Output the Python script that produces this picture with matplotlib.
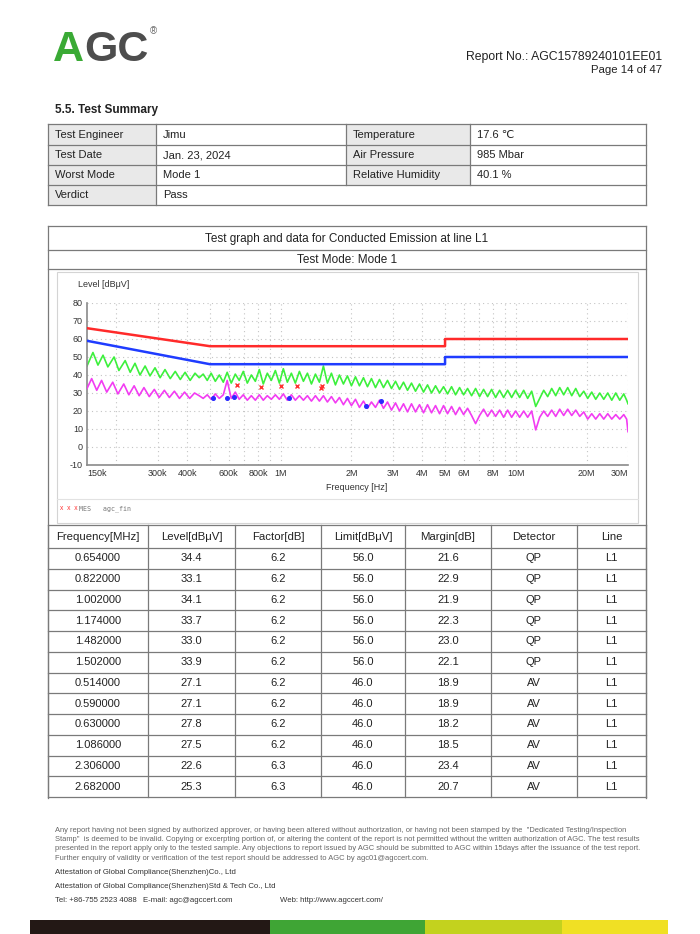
import matplotlib
matplotlib.use("Agg")
import matplotlib.pyplot as plt
from matplotlib.lines import Line2D
from matplotlib.patches import Rectangle

plt.rcParams['font.family'] = ['Liberation Sans', 'DejaVu Sans']
plt.rcParams['axes.unicode_minus'] = False

# ---- 시험 조건 요약 표
summary_rows = [
    ["Test Engineer", "Jimu", "Temperature", "17.6 ℃"],
    ["Test Date", "Jan. 23, 2024", "Air Pressure", "985 Mbar"],
    ["Worst Mode", "Mode 1", "Relative Humidity", "40.1 %"],
    ["Verdict", "Pass"],
]

# ---- 한계선 (MHz, dBuV)
lim_freq = [0.15, 0.5, 5.0, 5.0, 30.0]
qp_limit = [66, 56, 56, 60, 60]
av_limit = [59, 46, 46, 50, 50]

# ---- 피크 트레이스 (초록), 저주파 리플 구간
pk_lo_freq = [0.150, 0.159, 0.167, 0.1755, 0.184, 0.1955, 0.205, 0.218, 0.229, 0.240, 0.252,
              0.265, 0.278, 0.292, 0.307, 0.322, 0.339, 0.356, 0.374, 0.392, 0.412, 0.432]
pk_lo_level = [45.0, 52.5, 45.5, 51.0, 44.5, 50.0, 42.5, 48.0, 41.5, 46.5, 40.0,
               45.0, 39.5, 44.0, 38.5, 43.0, 38.0, 42.0, 37.5, 41.5, 37.0, 41.0]

# ---- 평균 트레이스 (자홍), 저주파 리플 구간
av_lo_freq = [0.150, 0.157, 0.165, 0.173, 0.182, 0.193, 0.203, 0.215, 0.226, 0.238, 0.250,
              0.262, 0.276, 0.290, 0.304, 0.320, 0.336, 0.353, 0.371, 0.390, 0.410, 0.430]
av_lo_level = [32.5, 38.0, 31.5, 37.0, 30.5, 36.0, 29.5, 35.0, 29.0, 34.0, 28.5,
               33.0, 28.0, 32.0, 27.5, 31.5, 27.5, 31.0, 27.0, 30.5, 27.0, 30.0]

# ---- 0.45 MHz 이후 공통 주파수 (노이즈 구간)
hf_freq = [0.45, 0.468, 0.487, 0.506, 0.527, 0.548, 0.570, 0.592, 0.616, 0.641,
           0.666, 0.693, 0.721, 0.750, 0.780, 0.811, 0.843, 0.877, 0.912, 0.949,
           0.987, 1.026, 1.067, 1.110, 1.154, 1.201, 1.249, 1.299, 1.351, 1.405,
           1.461, 1.519, 1.580, 1.643, 1.709, 1.777, 1.848, 1.922, 1.999, 2.079,
           2.162, 2.249, 2.339, 2.432, 2.530, 2.631, 2.736, 2.846, 2.959, 3.078,
           3.201, 3.329, 3.462, 3.600, 3.744, 3.894, 4.050, 4.212, 4.380, 4.555,
           4.738, 4.927, 5.124, 5.329, 5.542, 5.764, 5.995, 6.234, 6.484, 6.743,
           7.013, 7.293, 7.585, 7.889, 8.204, 8.533, 8.874, 9.229, 9.598, 9.982,
           10.38, 10.80, 11.23, 11.68, 12.15, 12.63, 13.14, 13.66, 14.21, 14.78,
           15.37, 15.98, 16.62, 17.29, 17.98, 18.70, 19.45, 20.22, 21.03, 21.87,
           22.75, 23.66, 24.60, 25.59, 26.61, 27.67, 28.78, 29.6, 30.0]
pk_hf_level = [38.5, 40.5, 37.0, 41.0, 36.5, 40.0, 36.0, 41.5, 35.5, 40.5,
               37.0, 42.0, 35.5, 40.0, 36.5, 43.0, 35.0, 41.0, 37.0, 42.5,
               35.5, 43.5, 36.0, 41.0, 35.5, 42.0, 36.5, 41.0, 35.0, 40.5,
               36.0, 45.0, 35.5, 41.0, 34.5, 40.0, 35.0, 39.5, 34.0, 39.0,
               34.0, 38.5, 33.5, 38.0, 33.0, 37.5, 33.0, 37.0, 32.5, 36.5,
               32.0, 36.0, 31.5, 35.5, 31.0, 35.0, 30.5, 34.5, 30.0, 34.0,
               30.0, 33.5, 29.5, 33.5, 29.0, 33.0, 29.0, 32.5, 28.5, 32.5,
               28.0, 32.0, 28.0, 32.0, 27.5, 31.5, 27.5, 31.5, 27.5, 31.5,
               27.5, 31.5, 27.0, 31.0, 22.5, 27.0, 31.5, 28.0, 32.5, 28.5,
               33.0, 29.0, 33.0, 28.5, 32.5, 28.0, 31.0, 27.0, 30.5, 26.5,
               30.0, 26.5, 30.0, 26.0, 30.0, 26.0, 29.5, 26.0, 24.0]
av_hf_level = [28.5, 27.0, 29.0, 26.5, 29.5, 27.0, 29.0, 37.0, 27.0, 30.5,
               26.5, 29.0, 26.0, 28.5, 26.0, 29.0, 26.0, 28.5, 26.5, 29.0,
               26.5, 29.5, 26.0, 29.0, 26.0, 28.5, 26.0, 28.5, 25.5, 28.5,
               25.5, 28.5, 25.0, 28.0, 24.5, 27.5, 23.5, 27.0, 23.0, 26.5,
               22.0, 25.5, 21.5, 25.0, 22.0, 26.0, 21.5, 25.0, 20.5, 24.5,
               20.0, 24.0, 19.5, 24.0, 19.5, 23.5, 19.0, 23.5, 19.0, 23.0,
               18.5, 23.0, 18.5, 22.5, 18.0, 22.0, 18.0, 21.5, 17.5, 13.0,
               17.5, 21.0, 17.0, 20.5, 17.0, 20.5, 16.5, 20.5, 16.5, 20.0,
               16.5, 20.0, 16.5, 20.0, 9.5, 16.5, 20.0, 17.0, 20.5, 17.0,
               21.0, 17.5, 21.0, 17.5, 20.5, 17.0, 19.5, 15.5, 18.5, 15.5,
               18.5, 15.5, 18.5, 15.5, 18.0, 15.5, 18.0, 15.5, 8.5]

# ---- 최종 측정 데이터 표
meas_freq = [0.654, 0.822, 1.002, 1.174, 1.482, 1.502, 0.514, 0.590, 0.630, 1.086, 2.306, 2.682]
meas_level = [34.4, 33.1, 34.1, 33.7, 33.0, 33.9, 27.1, 27.1, 27.8, 27.5, 22.6, 25.3]
meas_factor = [6.2, 6.2, 6.2, 6.2, 6.2, 6.2, 6.2, 6.2, 6.2, 6.2, 6.3, 6.3]
meas_limit = [56.0, 56.0, 56.0, 56.0, 56.0, 56.0, 46.0, 46.0, 46.0, 46.0, 46.0, 46.0]
meas_margin = [21.6, 22.9, 21.9, 22.3, 23.0, 22.1, 18.9, 18.9, 18.2, 18.5, 23.4, 20.7]
meas_detector = ["QP"] * 6 + ["AV"] * 6
meas_line = ["L1"] * 12
table_header = ["Frequency[MHz]", "Level[dBμV]", "Factor[dB]", "Limit[dBμV]",
                "Margin[dB]", "Detector", "Line"]

xtick_pos = [0.15, 0.3, 0.4, 0.6, 0.8, 1, 2, 3, 4, 5, 6, 8, 10, 20, 30]
xtick_lab = ["150k", "300k", "400k", "600k", "800k", "1M", "2M", "3M", "4M", "5M",
             "6M", "8M", "10M", "20M", "30M"]
xgrid_pos = [0.2, 0.3, 0.4, 0.5, 0.6, 0.7, 0.8, 0.9, 1, 2, 3, 4, 5, 6, 7, 8, 9, 10, 20, 30]

W, H = 700, 934
fig = plt.figure(figsize=(W / 100, H / 100), dpi=100)


def fx(x):
    return x / W


def fy(y):
    return 1 - y / H


def line(x0, y0, x1, y1, color="#7a7a7a", lw=0.9):
    fig.add_artist(Line2D([fx(x0), fx(x1)], [fy(y0), fy(y1)], color=color, lw=lw,
                          transform=fig.transFigure))


def rect(x0, y0, x1, y1, fc, ec="none", lw=0.0):
    fig.add_artist(Rectangle((fx(x0), fy(y1)), fx(x1) - fx(x0), fy(y0) - fy(y1),
                             facecolor=fc, edgecolor=ec, lw=lw, transform=fig.transFigure))


def text(x, y, s, size=8, ha="left", color="#222222", **kw):
    fig.text(fx(x), fy(y), s, fontsize=size, ha=ha, va="center", color=color, **kw)


# ---- 머리말: 로고, 보고서 번호
text(53, 50, "A", size=31, color="#3aaa35", weight="bold")
text(84, 50, "GC", size=31, color="#4d4d4d", weight="bold")
text(150, 31, "®", size=7, color="#666666")
text(662, 57, "Report No.: AGC15789240101EE01", size=8.8, ha="right")
text(662, 70, "Page 14 of 47", size=8.2, ha="right")

# ---- 시험 요약 표
text(55, 110, "5.5. Test Summary", size=8.5, weight="bold")
sx = [48, 156, 346, 470, 646]
sy = [124, 145, 165, 185, 205]
for r, row in enumerate(summary_rows):
    y0, y1 = sy[r], sy[r + 1]
    rect(sx[0], y0, sx[1], y1, "#e9e9e9")
    if len(row) == 4:
        rect(sx[2], y0, sx[3], y1, "#e9e9e9")
        for c in range(4):
            text(sx[c] + 7, (y0 + y1) / 2, row[c], size=8)
    else:
        text(sx[0] + 7, (y0 + y1) / 2, row[0], size=8)
        text(sx[1] + 7, (y0 + y1) / 2, row[1], size=8)
for y in sy:
    line(sx[0], y, sx[-1], y)
for x in sx:
    line(x, sy[0], x, sy[-1] if x in (sx[0], sx[1], sx[-1]) else sy[3])

# ---- 그래프 박스
bx0, bx1 = 48, 646
line(bx0, 226, bx1, 226)
line(bx0, 250, bx1, 250)
line(bx0, 269, bx1, 269)
line(bx0, 226, bx0, 798)
line(bx1, 226, bx1, 798)
text(347, 239, "Test graph and data for Conducted Emission at line L1", size=8.5, ha="center")
text(347, 260, "Test Mode: Mode 1", size=8.5, ha="center")
rect(57, 272, 638, 523, "none", ec="#d4d4d4", lw=0.8)
line(57, 499, 638, 499, color="#e2e2e2", lw=0.8)

ax = fig.add_axes([fx(87), fy(465), fx(628) - fx(87), fy(303) - fy(465)])
ax.set_xscale("log")
ax.set_xlim(0.15, 30)
ax.set_ylim(-10, 80)
for g in xgrid_pos:
    ax.axvline(g, color="#c4c4c4", lw=0.8, ls=(0, (1, 3)), zorder=0)
for g in range(0, 90, 10):
    ax.axhline(g, color="#c4c4c4", lw=0.8, ls=(0, (1, 3)), zorder=0)

ax.plot(pk_lo_freq + hf_freq, pk_lo_level + pk_hf_level, color="#3cf03c", lw=1.2, zorder=2)
ax.plot(av_lo_freq + hf_freq, av_lo_level + av_hf_level, color="#f23cf2", lw=1.2, zorder=3)
ax.plot(lim_freq, qp_limit, color="#ff2a2a", lw=1.8, zorder=4)
ax.plot(lim_freq, av_limit, color="#1f3cff", lw=1.8, zorder=4)

qp = [i for i, d in enumerate(meas_detector) if d == "QP"]
av = [i for i, d in enumerate(meas_detector) if d == "AV"]
ax.plot([meas_freq[i] for i in qp], [meas_level[i] for i in qp], ls="none", marker="x",
        ms=3.5, mew=1.0, color="#ff3030", zorder=5)
ax.plot([meas_freq[i] for i in av], [meas_level[i] for i in av], ls="none", marker="o",
        ms=2.6, color="#2a2aff", zorder=5)

ax.set_yticks(range(-10, 90, 10))
ax.set_xticks(xtick_pos)
ax.set_xticklabels(xtick_lab)
ax.xaxis.set_minor_locator(matplotlib.ticker.NullLocator())
ax.tick_params(labelsize=6.5, colors="#333333", length=0, pad=3)
for lab, pos in zip(ax.get_xticklabels(), xtick_pos):
    if pos == 0.15:
        lab.set_ha("left")
    elif pos == 30:
        lab.set_ha("right")
for s in ["top", "right"]:
    ax.spines[s].set_visible(False)
for s in ["left", "bottom"]:
    ax.spines[s].set_color("#8a8a8a")
    ax.spines[s].set_linewidth(1.2)
text(78, 284, "Level [dBμV]", size=6.5, color="#333333")
text(357, 488, "Frequency [Hz]", size=6.5, ha="center", color="#333333")
text(60, 509, "x  x  x", size=4.8, color="#ff3030")
text(79, 509, "MES   agc_fin", size=4.8, color="#777777", family="DejaVu Sans Mono")

# ---- 측정 데이터 표
cx = [48, 148, 235, 321, 405, 491, 577, 646]
ty = [525, 548] + [548 + 20.75 * (k + 1) for k in range(12)]
for c, h in enumerate(table_header):
    text((cx[c] + cx[c + 1]) / 2, (ty[0] + ty[1]) / 2, h, size=8.2, ha="center")
for r in range(12):
    vals = [f"{meas_freq[r]:.6f}", f"{meas_level[r]:.1f}", f"{meas_factor[r]:.1f}",
            f"{meas_limit[r]:.1f}", f"{meas_margin[r]:.1f}", meas_detector[r], meas_line[r]]
    yc = (ty[r + 1] + ty[r + 2]) / 2
    for c, v in enumerate(vals):
        text((cx[c] + cx[c + 1]) / 2, yc, v, size=8, ha="center")
for y in ty:
    line(cx[0], y, cx[-1], y)
for x in cx:
    line(x, ty[0], x, ty[-1])

# ---- 꼬리말
notes = [
    'Any report having not been signed by authorized approver, or having been altered without authorization, or having not been stamped by the  "Dedicated Testing/Inspection',
    'Stamp"  is deemed to be invalid. Copying or excerpting portion of, or altering the content of the report is not permitted without the written authorization of AGC. The test results',
    'presented in the report apply only to the tested sample. Any objections to report issued by AGC should be submitted to AGC within 15days after the issuance of the test report.',
    'Further enquiry of validity or verification of the test report should be addressed to AGC by agc01@agccert.com.',
]
for k, s in enumerate(notes):
    text(55, 830 + 9.5 * k, s, size=5.4, color="#666666")
text(55, 873, "Attestation of Global Compliance(Shenzhen)Co., Ltd", size=5.6, color="#333333")
text(55, 887, "Attestation of Global Compliance(Shenzhen)Std & Tech Co., Ltd", size=5.6, color="#333333")
text(55, 900, "Tel: +86-755 2523 4088", size=5.6, color="#333333")
text(143, 900, "E-mail: agc@agccert.com", size=5.6, color="#333333")
text(280, 900, "Web: http://www.agccert.com/", size=5.6, color="#333333")

rect(30, 920, 270, 934, "#231815")
rect(270, 920, 425, 934, "#3fa535")
rect(425, 920, 562, 934, "#c3d21e")
rect(562, 920, 668, 934, "#f0e024")

fig.savefig("out.png", dpi=100)
